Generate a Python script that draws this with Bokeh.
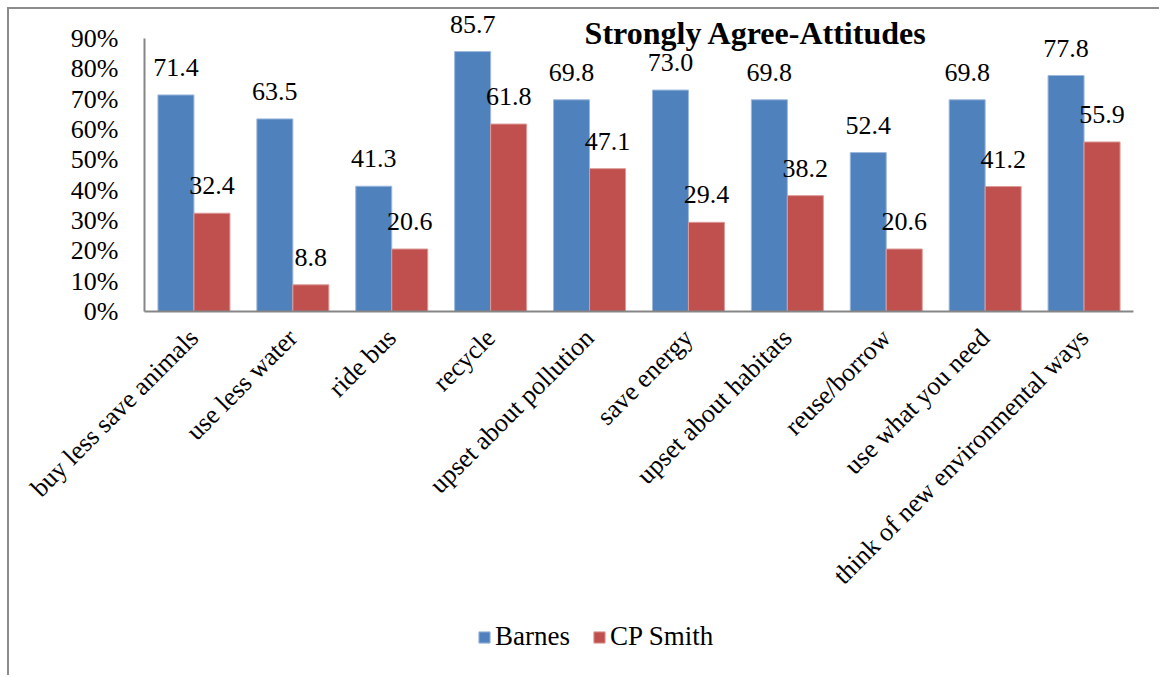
from bokeh.plotting import figure
from bokeh.models import (ColumnDataSource, Range1d, FixedTicker,
                          NumeralTickFormatter, LabelSet, Label, Legend, LegendItem)
from bokeh.transform import dodge
from bokeh.embed import file_html
from bokeh.resources import INLINE
import math

categories = ["buy less save animals", "use less water", "ride bus", "recycle",
              "upset about pollution", "save energy", "upset about habitats",
              "reuse/borrow", "use what you need", "think of new environmental ways"]
barnes = [71.4, 63.5, 41.3, 85.7, 69.8, 73.0, 69.8, 52.4, 69.8, 77.8]
cp_smith = [32.4, 8.8, 20.6, 61.8, 47.1, 29.4, 38.2, 20.6, 41.2, 55.9]
series_names = ["Barnes", "CP Smith"]
y_ticks = [0.0, 0.1, 0.2, 0.3, 0.4, 0.5, 0.6, 0.7, 0.8, 0.9]
title_text = "Strongly Agree-Attitudes"

BLUE = "#4F81BD"
RED = "#C0504D"
FONT = "Liberation Serif"
FS = "26px"

n = len(categories)
xc = [i + 0.5 for i in range(n)]

src = ColumnDataSource(dict(
    xc=xc,
    barnes=[v / 100 for v in barnes],
    cp=[v / 100 for v in cp_smith],
    barnes_lbl=["%.1f" % v for v in barnes],
    cp_lbl=["%.1f" % v for v in cp_smith],
))

# frame covers the whole canvas (window x 9..1161, y 9..677);
# category slot = 98.9 px, x=0 at window x 144; y=0 at window y 311, 303.3 px per unit
p = figure(width=1152, height=668, output_backend="svg", toolbar_location=None,
           x_range=Range1d(-1.365, 10.283),
           y_range=Range1d(-1.2067, 0.9957),
           min_border_left=0, min_border_right=0, min_border_top=0,
           min_border_bottom=0)
p.styles = {"margin-left": "7px", "margin-top": "7px",
            "border-left": "2px solid #8c8c8c", "border-top": "2px solid #8c8c8c"}
p.outline_line_color = None
p.grid.visible = False
p.background_fill_color = "white"
p.border_fill_color = "white"

off = 0.182
w = 0.364
rb = p.vbar(x=dodge("xc", -off), top="barnes", width=w, source=src,
            fill_color=BLUE, line_color="#9db8dc", line_width=1)
rr = p.vbar(x=dodge("xc", off), top="cp", width=w, source=src,
            fill_color=RED, line_color="#dc9a98", line_width=1)

for xoff, col, lcol in [(-off, "barnes", "barnes_lbl"), (off, "cp", "cp_lbl")]:
    ls = LabelSet(x=dodge("xc", xoff), y=col, text=lcol, source=src,
                  y_offset=19, text_align="center", text_baseline="alphabetic",
                  text_font=FONT, text_font_size=FS, text_color="black")
    p.add_layout(ls)

t = Label(x=6.183, y=0.9166, text=title_text, text_align="center",
          text_baseline="alphabetic", text_font=FONT, text_font_size="32px",
          text_font_style="bold", text_color="black")
p.add_layout(t)

ya = p.yaxis[0]
ya.fixed_location = 0
ya.ticker = FixedTicker(ticks=y_ticks)
ya.formatter = NumeralTickFormatter(format="0%")
ya.bounds = (0, 0.9)
ya.axis_line_color = "#868686"
ya.axis_line_width = 2
ya.major_tick_line_color = None
ya.minor_tick_line_color = None
ya.major_tick_out = 0
ya.major_tick_in = 0
ya.major_label_standoff = 26
ya.major_label_text_font = FONT
ya.major_label_text_font_size = FS
ya.major_label_text_color = "black"

xa = p.xaxis[0]
xa.fixed_location = 0
xa.bounds = (0, n)
xa.ticker = FixedTicker(ticks=xc)
xa.major_label_overrides = {x: c for x, c in zip(xc, categories)}
xa.axis_line_color = "#868686"
xa.axis_line_width = 2
xa.major_tick_line_color = None
xa.minor_tick_line_color = None
xa.major_tick_out = 0
xa.major_tick_in = 0
xa.major_label_orientation = math.pi / 4
xa.major_label_standoff = 22
xa.major_label_text_font = FONT
xa.major_label_text_font_size = FS
xa.major_label_text_color = "black"

legend = Legend(items=[LegendItem(label=series_names[0], renderers=[rb]),
                       LegendItem(label=series_names[1], renderers=[rr])],
                orientation="horizontal", location=(468, 25),
                glyph_width=14, glyph_height=14, label_standoff=4, spacing=22,
                padding=0, margin=0, border_line_color=None, background_fill_alpha=0,
                label_text_font=FONT, label_text_font_size="27px",
                label_text_color="black")
p.add_layout(legend, "center")

open("out.html", "w").write(file_html(p, INLINE))
